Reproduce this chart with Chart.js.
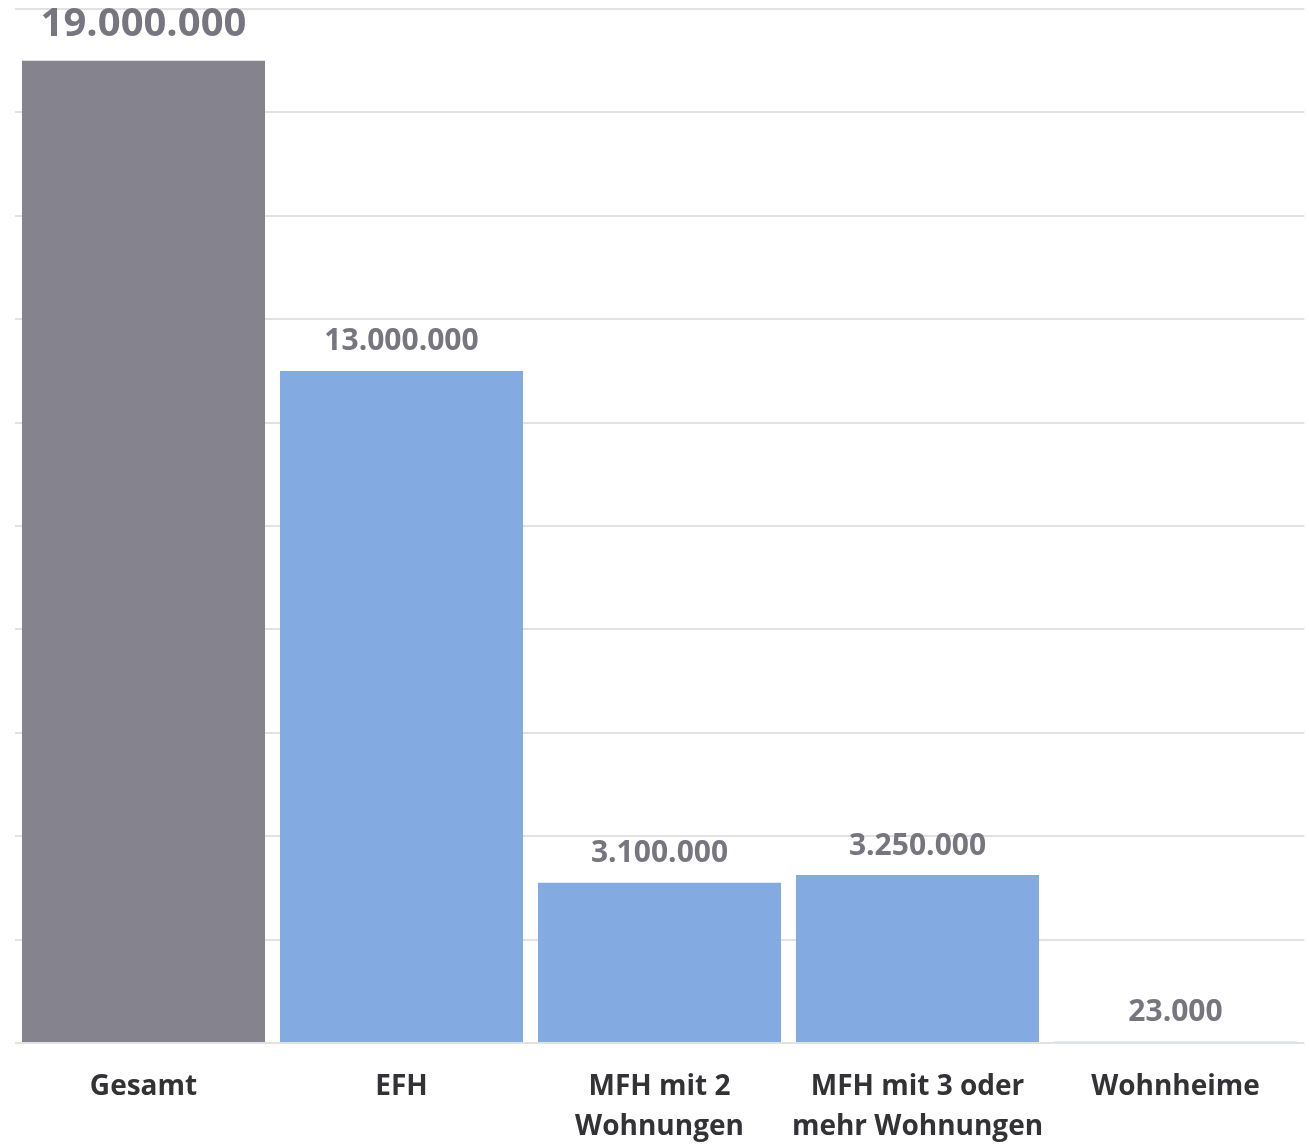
<!DOCTYPE html>
<html>
<head>
<meta charset="utf-8">
<script src="https://cdn.jsdelivr.net/npm/chart.js@4"></script>
<style>
  html, body { margin: 0; padding: 0; background: #fff; }
  #wrap { width: 1309px; height: 1145px; }
</style>
</head>
<body>
<div id="wrap"><canvas id="chart"></canvas></div>
<script>
const categories = ['Gesamt', 'EFH', ['MFH mit 2', 'Wohnungen'], ['MFH mit 3 oder', 'mehr Wohnungen'], 'Wohnheime'];
const values = [19000000, 13000000, 3100000, 3250000, 23000];
const barColors = ['#85838d', '#84aae2', '#84aae2', '#84aae2', '#84aae2'];

const FONT = '"Open Sans", "Noto Sans", sans-serif';

// German thousands separator
const fmt = (v) => String(v).replace(/\B(?=(\d{3})+(?!\d))/g, '.');

// value labels above the bars
const valueLabels = {
  id: 'valueLabels',
  afterDatasetsDraw(chart) {
    const ctx = chart.ctx;
    const meta = chart.getDatasetMeta(0);
    ctx.save();
    ctx.fillStyle = '#77757f';
    ctx.textAlign = 'center';
    ctx.textBaseline = 'middle';
    meta.data.forEach((bar, i) => {
      const big = i === 0;
      ctx.font = `bold ${big ? 40 : 30}px ${FONT}`;
      ctx.fillText(fmt(values[i]), bar.x, bar.y - (big ? 36 : 29));
    });
    ctx.restore();
  }
};

new Chart(document.getElementById('chart'), {
  type: 'bar',
  data: {
    labels: categories,
    datasets: [{
      data: values,
      backgroundColor: barColors,
      barPercentage: 0.942,
      categoryPercentage: 1
    }]
  },
  options: {
    responsive: true,
    maintainAspectRatio: false,
    animation: false,
    layout: { padding: { left: 14.5, right: 4.5, top: 9, bottom: 0 } },
    plugins: {
      legend: { display: false },
      tooltip: { enabled: false }
    },
    scales: {
      x: {
        grid: { display: false, drawTicks: false },
        border: { display: false },
        ticks: {
          color: '#333337',
          padding: 24,
          maxRotation: 0,
          font: { family: FONT, size: 28, weight: 'bold', lineHeight: 1.43 }
        },
        afterFit: (axis) => { axis.height = 102; }
      },
      y: {
        min: 0,
        max: 20000000,
        border: { display: false },
        grid: { color: '#e2e2e4', lineWidth: 2, drawTicks: false },
        ticks: { display: false, stepSize: 2000000 }
      }
    }
  },
  plugins: [valueLabels]
});
</script>
</body>
</html>
